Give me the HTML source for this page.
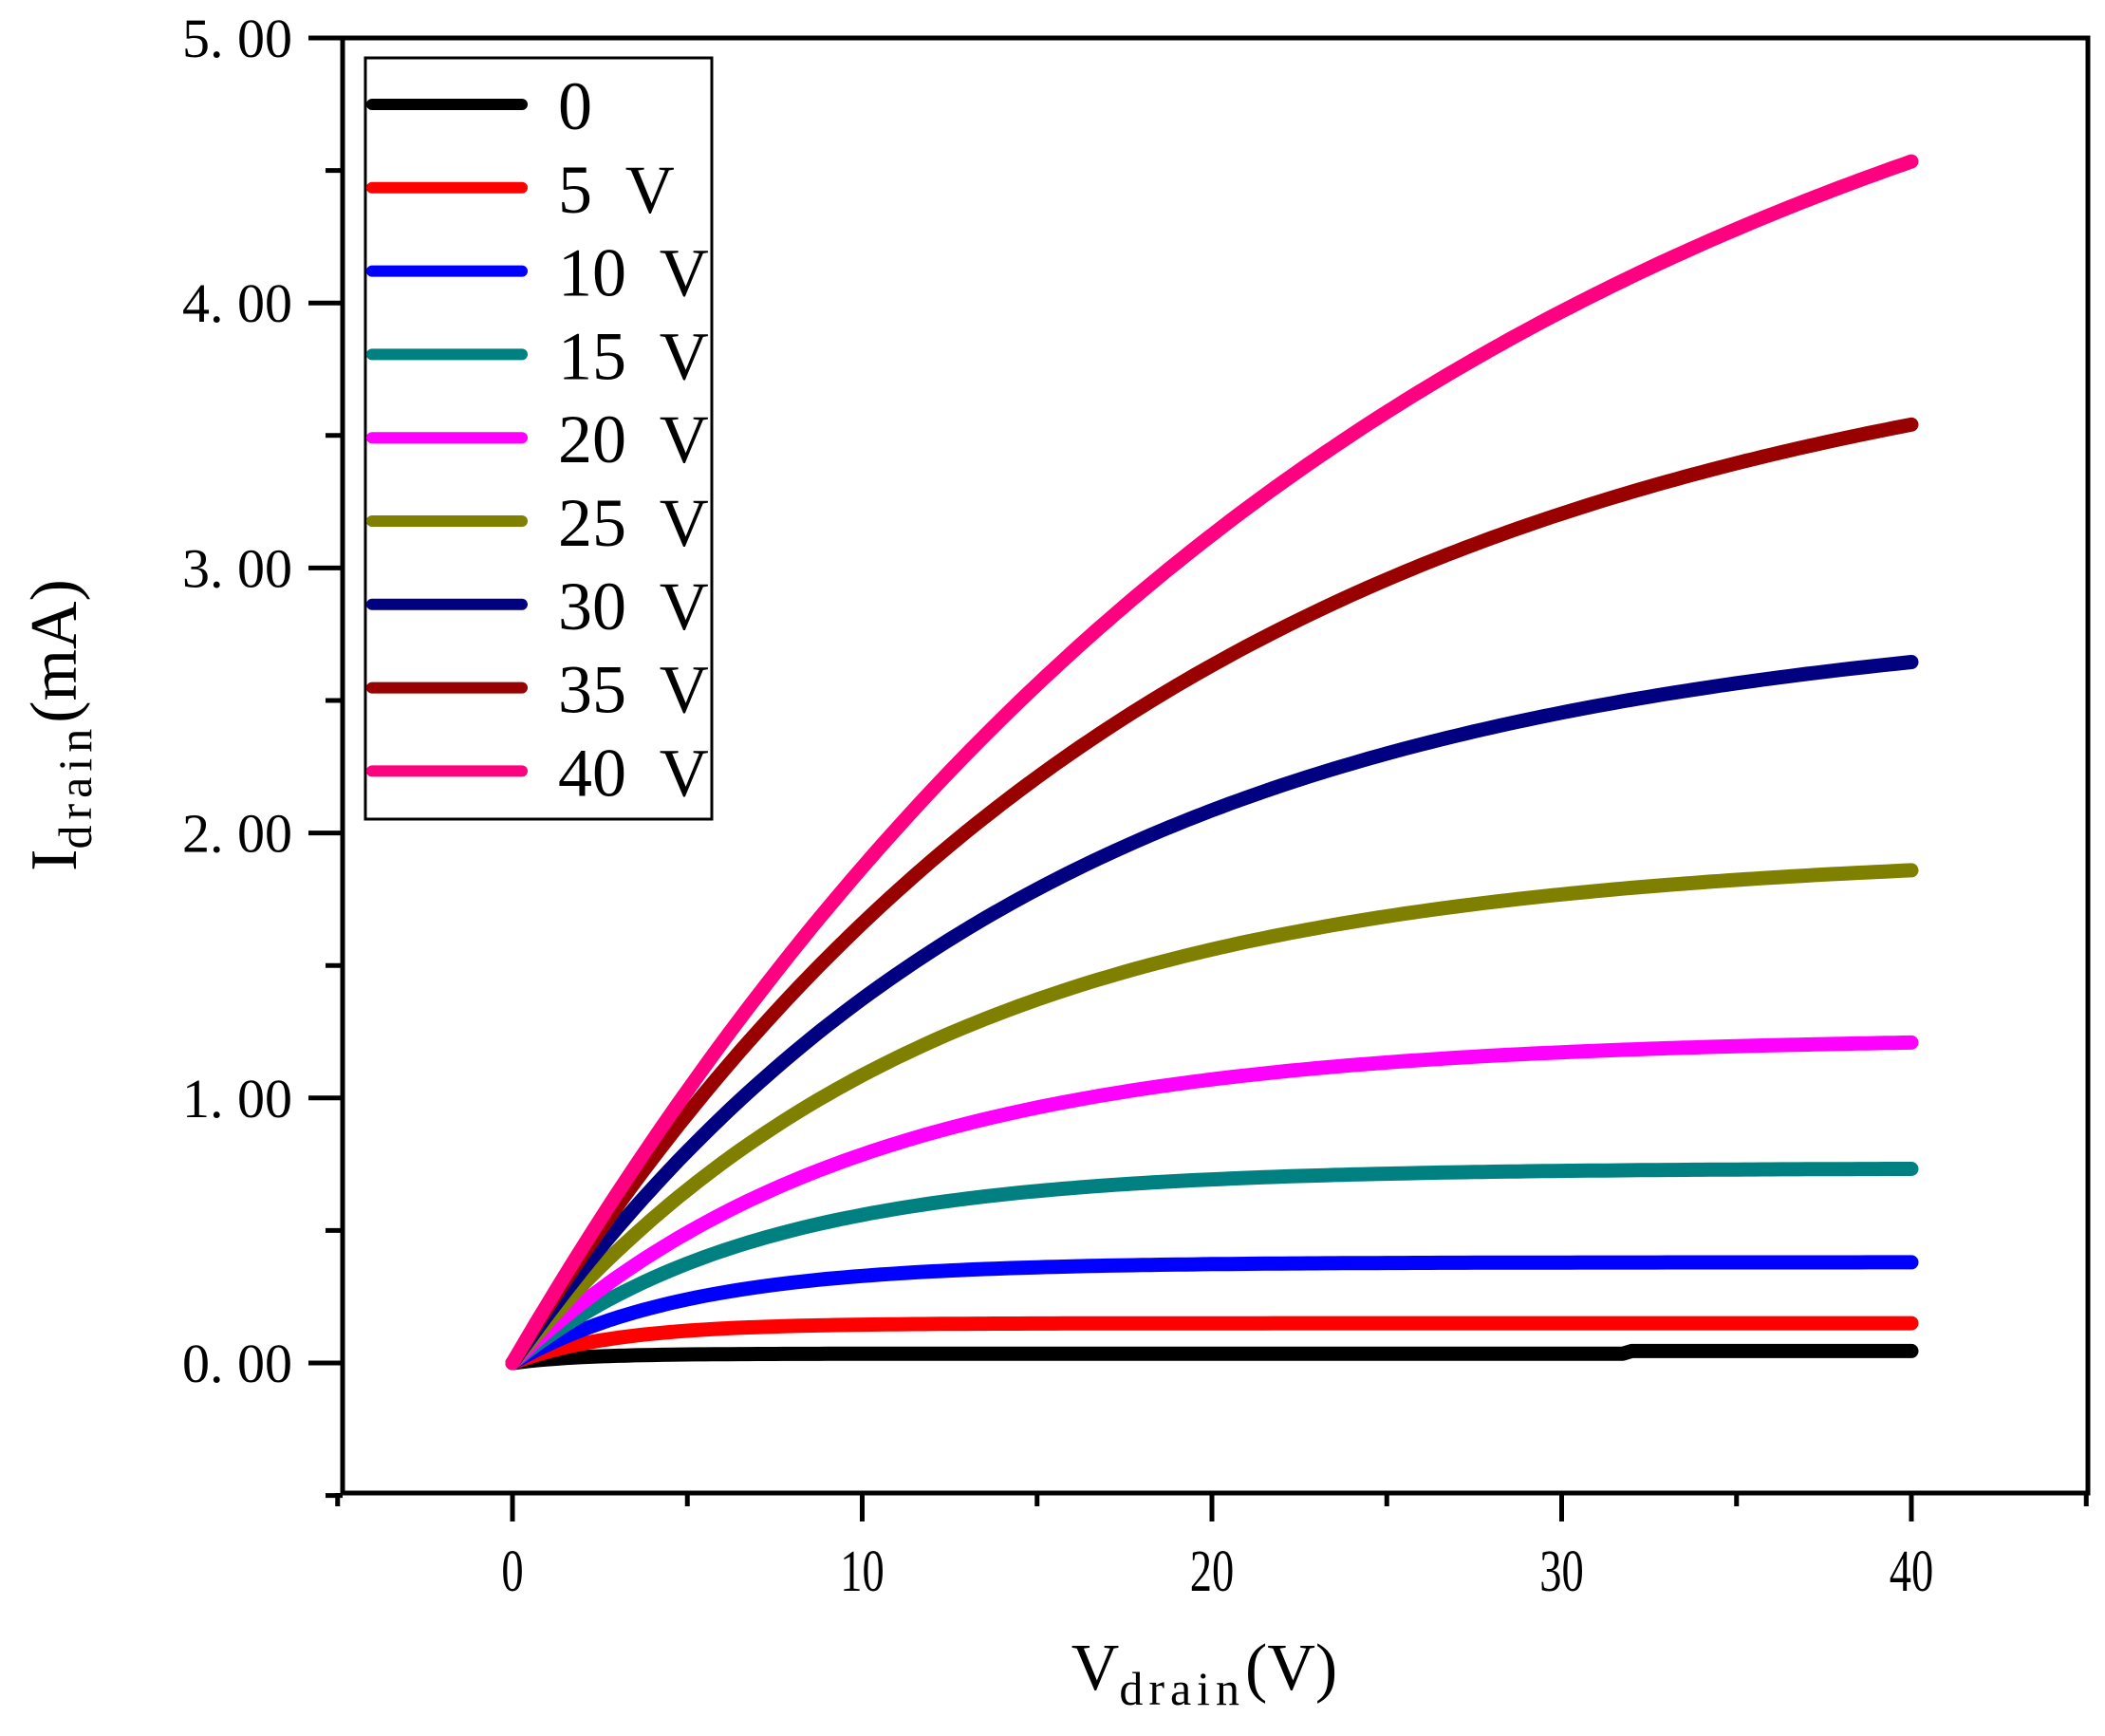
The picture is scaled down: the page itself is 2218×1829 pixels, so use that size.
<!DOCTYPE html>
<html><head><meta charset="utf-8"><style>
html,body{margin:0;padding:0;background:#fff;}
svg{display:block;font-family:"Liberation Serif",serif;}
text{white-space:pre;}
</style></head><body>
<svg id="s" width="2218" height="1829" viewBox="0 0 2218 1829" xmlns="http://www.w3.org/2000/svg">
<g id="curves" fill="none" stroke-width="15" stroke-linejoin="round" stroke-linecap="round"></g>
<rect x="361" y="40" width="1839" height="1533" fill="none" stroke="#000" stroke-width="5"/>
<g id="ticks" stroke="#000" stroke-width="5"></g>
<g id="labels" font-size="58" fill="#000"></g>
<rect x="385" y="61" width="365" height="802" fill="#fff" stroke="#000" stroke-width="3"/>
<g id="legend" font-size="72"></g>
<text transform="translate(80,764) rotate(-90)" font-size="70" text-anchor="middle">I<tspan font-size="50" dy="16" letter-spacing="6">drain</tspan><tspan dy="-16">(mA)</tspan></text>
<text x="1269" y="1780" font-size="70" text-anchor="middle">V<tspan font-size="50" dy="16" letter-spacing="6">drain</tspan><tspan dy="-16">(V)</tspan></text>
</svg>
<script>
var ns="http://www.w3.org/2000/svg";
function X(v){return 540+v*36.85;}
function Y(i){return 1436-i*279.2;}
function el(p,t,a,txt){var e=document.createElementNS(ns,t);for(var k in a)e.setAttribute(k,a[k]);if(txt!==undefined)e.textContent=txt;document.getElementById(p).appendChild(e);return e;}
var series=[
["#000000",0.035,2,"0"],["#ff0000",0.15,3,"5  V"],["#0000ff",0.38,5,"10  V"],["#008080",0.735,7,"15  V"],
["#ff00ff",1.23,9.8,"20  V"],["#808000",1.93,12.1,"25  V"],["#000080",2.85,15.2,"30  V"],["#990000",4.02,18.8,"35  V"],["#ff0080",5.69,25.1,"40  V"]];
series.forEach(function(s,idx){
 var d="";for(var v=0;v<=40.001;v+=0.25){var i=s[1]*(1-Math.exp(-v/s[2]));if(idx==0&&v>=32)i=0.045;d+=(v==0?"M":"L")+X(v).toFixed(1)+" "+Y(i).toFixed(1);}
 el("curves","path",{d:d,stroke:s[0]});
 var y=110+idx*87.8;
 el("legend","line",{x1:392,y1:y,x2:550,y2:y,stroke:s[0],"stroke-width":12,"stroke-linecap":"round"});
 el("legend","text",{x:588,y:y+26},s[3]);
});
for(var k=0;k<=11;k++){var v=-0.5+k*0.5;var y=Y(v);var maj=Math.abs(v-Math.round(v))<1e-6;
 el("ticks","line",{x1:maj?325:343,y1:y,x2:361,y2:y});
 if(maj&&v>=0)el("labels","text",{x:308,y:y+20,"text-anchor":"end"},v.toFixed(0)+". 00");}
for(var v=-5;v<=45;v+=5){var x=X(v);var maj=v%10==0;
 el("ticks","line",{x1:x,y1:1573,x2:x,y2:maj?1603:1587});
 if(maj&&v>=0&&v<=40)el("labels","text",{transform:"translate("+x+",1676) scale(0.75,1)","text-anchor":"middle","font-size":"62"},""+v);}
</script>
</body></html>
